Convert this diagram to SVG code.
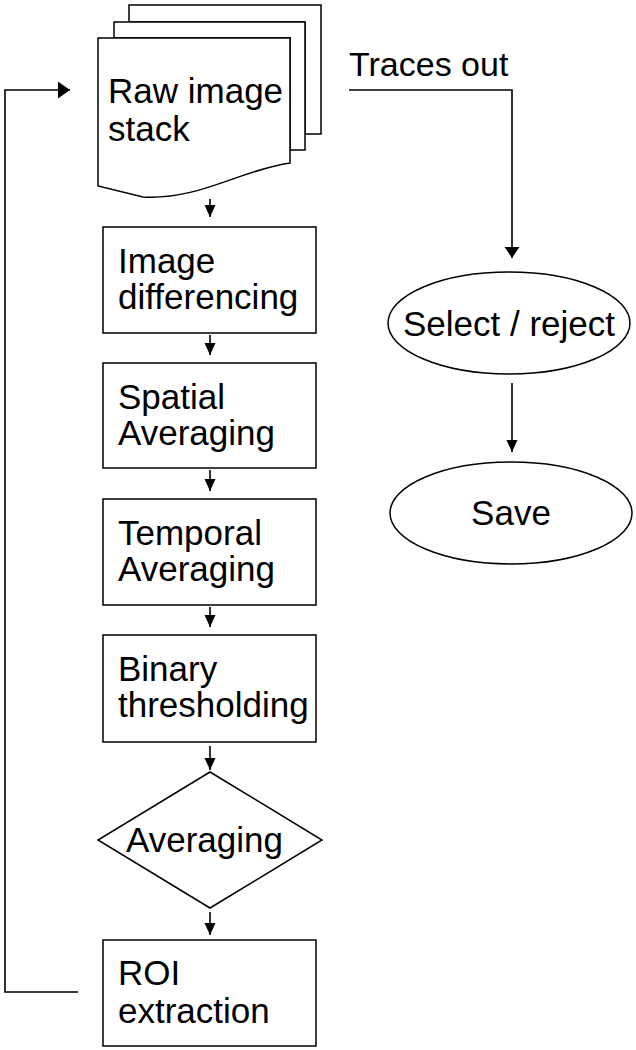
<svg xmlns="http://www.w3.org/2000/svg" width="636" height="1050" viewBox="0 0 636 1050">
<style>
.s{fill:#fff;stroke:#000;stroke-width:1.5}
.t{font-family:"Liberation Sans",Arial,sans-serif;font-size:35px;fill:#000}
.c{fill:none;stroke:#000;stroke-width:1.6}
</style>
<defs>
<marker id="a" markerUnits="userSpaceOnUse" markerWidth="12" markerHeight="12" refX="12" refY="6" orient="auto"><path d="M0,0.5L12,6L0,11.5Z" fill="#000"/></marker>
<marker id="w" markerUnits="userSpaceOnUse" markerWidth="11" markerHeight="16" refX="11" refY="8" orient="auto"><path d="M0,0.5L11,8L0,15.5Z" fill="#000"/></marker>
<marker id="b" markerUnits="userSpaceOnUse" markerWidth="12" markerHeight="18" refX="12" refY="9" orient="auto"><path d="M0,0.5L12,9L0,17.5Z" fill="#000"/></marker>
</defs>
<rect width="636" height="1050" fill="#fff"/>
<g id="raw">
<path class="s" d="M129,5H321V134H305V22H129Z"/>
<path class="s" d="M114,22H305V150H290V38H114Z"/>
<path class="s" d="M98,38H290V163C240,170 200,200 143,197L98,186Z"/>
<text class="t" x="108" y="103">Raw image</text>
<text class="t" x="108" y="141">stack</text>
</g>
<g id="diff"><rect class="s" x="103" y="227" width="213" height="106"/><text class="t" x="118" y="273">Image</text><text class="t" x="118" y="309">differencing</text></g>
<g id="spatial"><rect class="s" x="103" y="363" width="213" height="105"/><text class="t" x="118" y="409">Spatial</text><text class="t" x="118" y="445">Averaging</text></g>
<g id="temporal"><rect class="s" x="103" y="499" width="213" height="106"/><text class="t" x="118" y="545">Temporal</text><text class="t" x="118" y="581">Averaging</text></g>
<g id="binary"><rect class="s" x="103" y="635" width="213" height="107"/><text class="t" x="118" y="681">Binary</text><text class="t" x="118" y="717">thresholding</text></g>
<g id="avg"><path class="s" d="M210,772L322,840L210,908L98,840Z"/><text class="t" x="126" y="852">Averaging</text></g>
<g id="roi"><rect class="s" x="103" y="940" width="213" height="106"/><text class="t" x="118" y="985">ROI</text><text class="t" x="118" y="1023">extraction</text></g>
<g id="traces"><text class="t" x="349" y="76" style="font-size:34px">Traces out</text></g>
<g id="select"><ellipse class="s" cx="509" cy="323" rx="121" ry="51"/><text class="t" x="509" y="336" text-anchor="middle">Select / reject</text></g>
<g id="save"><ellipse class="s" cx="511" cy="513" rx="121" ry="51"/><text class="t" x="511" y="525" text-anchor="middle">Save</text></g>
<g id="connectors">
<path class="c" d="M210,199V217" marker-end="url(#a)"/>
<path class="c" d="M210,335V355" marker-end="url(#a)"/>
<path class="c" d="M210,470V491" marker-end="url(#a)"/>
<path class="c" d="M210,607V627" marker-end="url(#a)"/>
<path class="c" d="M210,746V770" marker-end="url(#a)"/>
<path class="c" d="M210,912V935" marker-end="url(#a)"/>
<path class="c" d="M349,90H512V258" marker-end="url(#w)"/>
<path class="c" d="M512,383V452" marker-end="url(#a)"/>
<path class="c" d="M78,992H5V90H70" marker-end="url(#b)"/>
</g>
</svg>
